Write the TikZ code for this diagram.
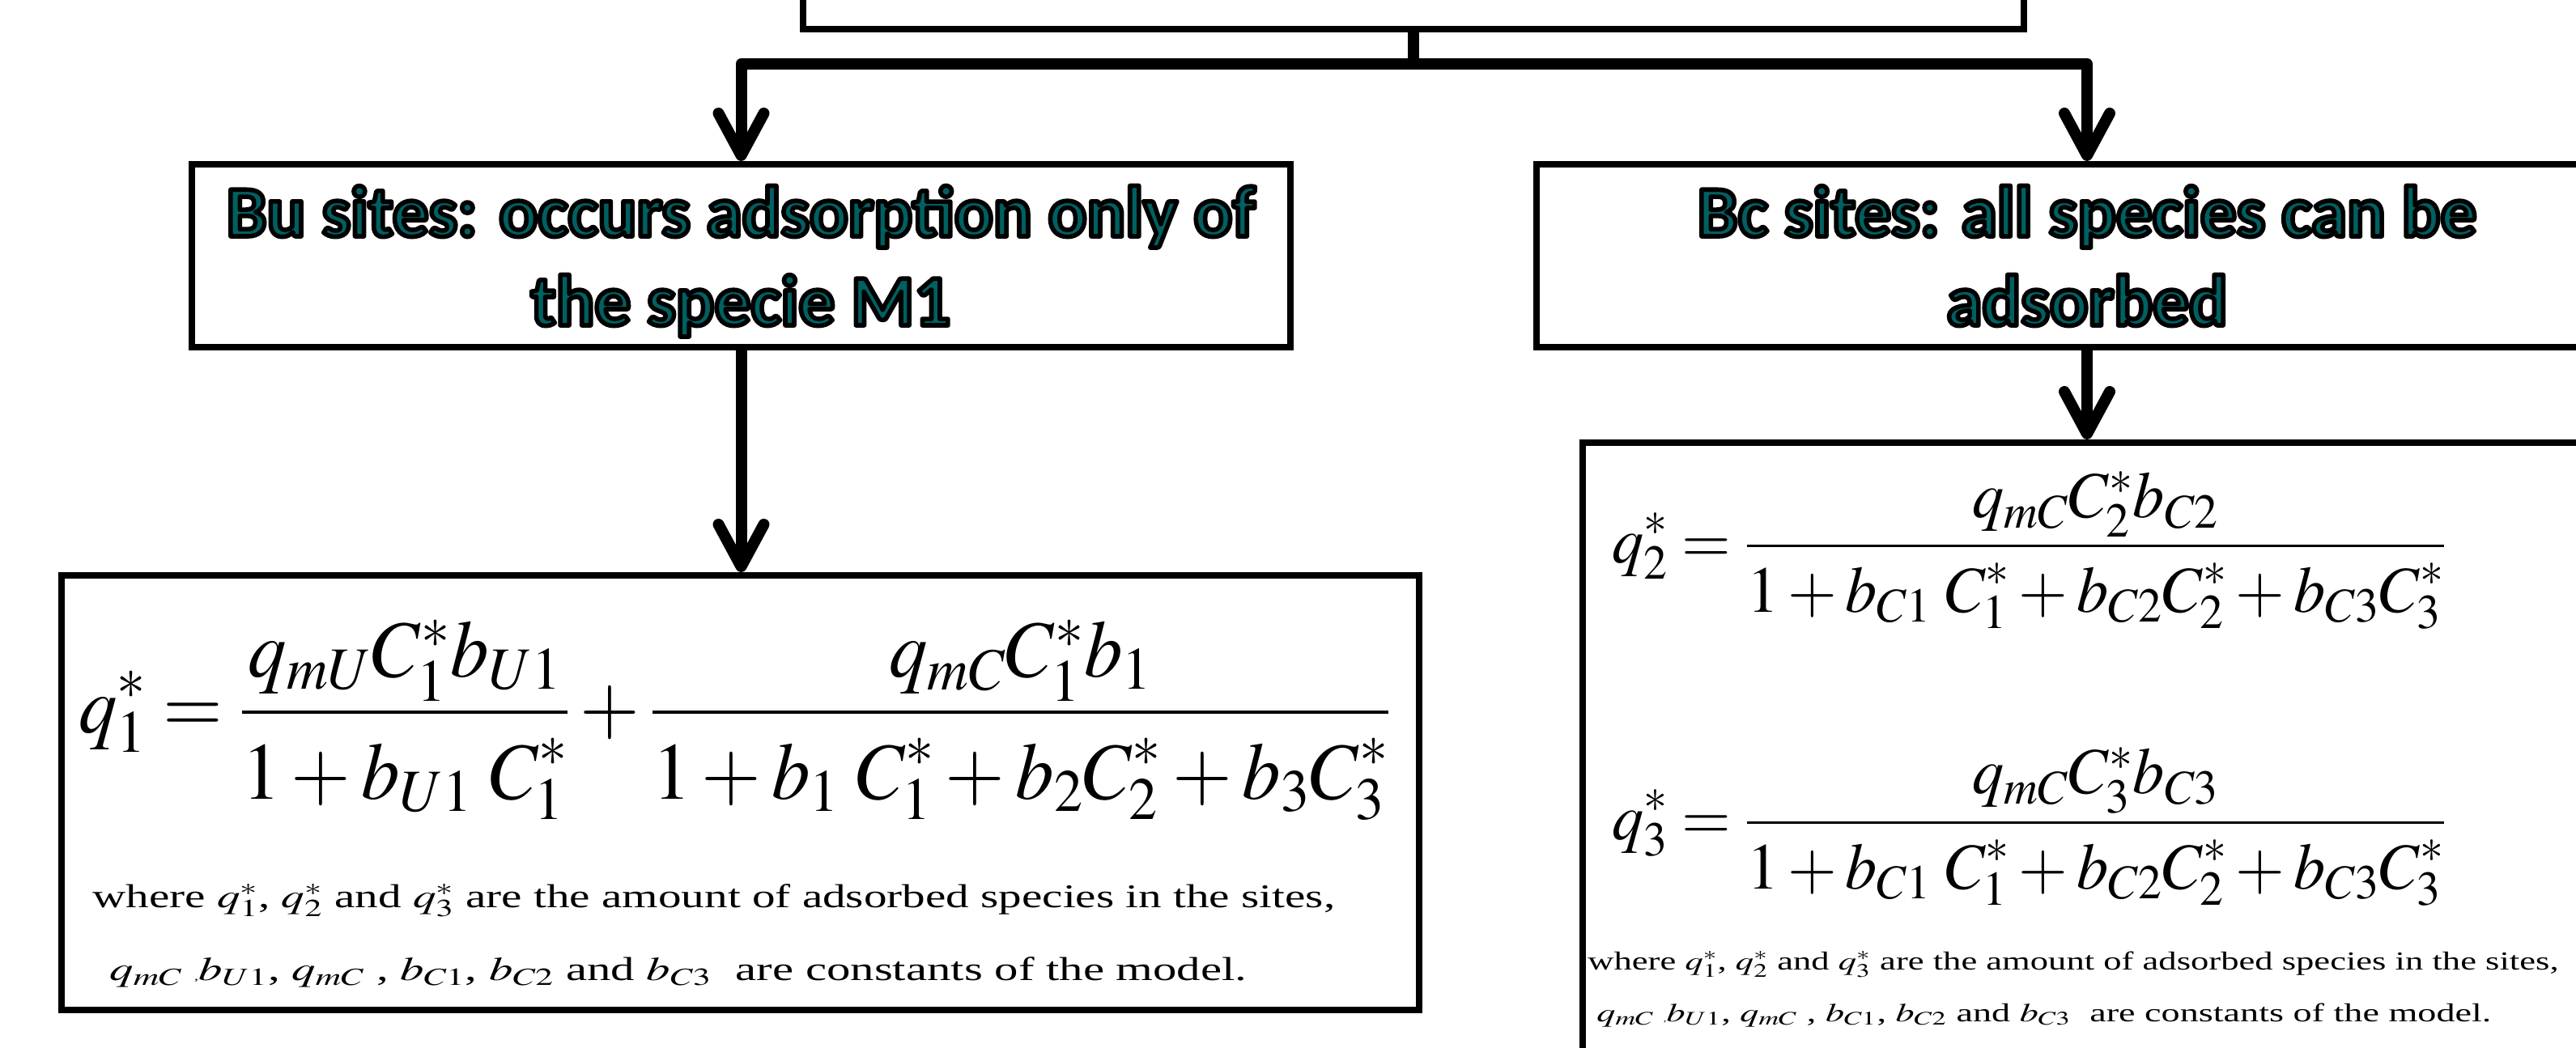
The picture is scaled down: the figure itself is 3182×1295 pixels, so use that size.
\documentclass[tikz,border=0pt]{standalone}
\usepackage{mathptmx}
\usepackage[no-math]{fontspec}
\usepackage{graphicx}
\setmainfont{Liberation Serif}
\newfontfamily\calibri{Carlito}
\usetikzlibrary{arrows.meta,fit}
\definecolor{tealtxt}{HTML}{006062}
\newcommand\ttl[1]{\special{pdf:literal direct 0 0 0 RG 2.8 w 1 j 2 Tr}#1\special{pdf:literal direct 0 Tr}}
\tikzset{
  box/.style={draw, line width=4pt, inner sep=0pt},
  conn/.style={line width=7pt, line join=round},
  >={Straight Barb[length=26pt,width=28pt,round]},
  ttlnode/.style={font=\calibri\bfseries\fontsize{44.5pt}{55pt}\selectfont, text=tealtxt, inner sep=0pt, anchor=base},
  eqbig/.style={anchor=base west, inner sep=0pt, font=\fontsize{50pt}{60pt}\selectfont},
  eqmid/.style={anchor=base west, inner sep=0pt, font=\fontsize{40.5pt}{48pt}\selectfont},
  txtA/.style={anchor=base west, inner sep=0pt, font=\fontsize{20.5pt}{24pt}\selectfont},
  txtB/.style={anchor=base west, inner sep=0pt, font=\fontsize{16pt}{19pt}\selectfont},
}
\begin{document}
\begin{tikzpicture}[x=0.5pt,y=-0.5pt]
\useasboundingbox (0,0) rectangle (3182,1295);
\clip (0,0) rectangle (3182,1295);
% boxes
\node[box, fit={(992,-120) (2500,36)}] (top) {};
\node[box, fit={(237,203) (1594,429)}] (Bu) {};
\node[box, fit={(1898,203) (3258,429)}] (Bc) {};
\node[box, fit={(76,711) (1753,1248)}] (eqL) {};
\node[box, fit={(1955,547) (3201,1400)}] (eqR) {};
% titles
\node[ttlnode] (Bu1) at (915,292) {\ttl{Bu sites: occurs adsorption only of}};
\node[ttlnode] (Bu2) at (915,402) {\ttl{the specie M1}};
\node[ttlnode] (Bc1) at (2578,292) {\ttl{Bc sites: all species can be}};
\node[ttlnode] (Bc2) at (2578,402) {\ttl{adsorbed}};
% connectors
\coordinate (split) at (1746,79);
\draw[conn] (top.south) -- (split);
\draw[conn,<->] (Bu.north) |- (split) -| (Bc.north);
\draw[conn,->] (Bu.south) -- (Bu.south |- eqL.north);
\draw[conn,->] (Bc.south) -- (Bc.south |- eqR.north);
% equations
\node[eqbig] (eq1) at (97,905) {\resizebox{810pt}{\height}{$\displaystyle q_1^{*}=\frac{q_{mU}C_1^{*}b_{U1}}{\raisebox{-7pt}{$\displaystyle 1+b_{U1}\;C_1^{*}$}}+\frac{q_{mC}C_1^{*}b_1}{\raisebox{-7pt}{$\displaystyle 1+b_1\;C_1^{*}+b_2C_2^{*}+b_3C_3^{*}$}}$}};
\node[txtA] (tA1) at (114,1121) {\resizebox{767.5pt}{\height}{where $q_1^{*}$, $q_2^{*}$ and $q_3^{*}$ are the amount of adsorbed species in the sites,}};
\node[txtA] (tA2) at (135,1211) {\resizebox{702.5pt}{\height}{$q_{mC}$ {\scriptsize,}$b_{U1}$, $q_{mC}$ , $b_{C1}$, $b_{C2}$ and $b_{C3}$~ are constants of the model.}};
\node[eqmid] (eq2) at (1991,695) {\resizebox{515pt}{\height}{$\displaystyle q_2^{*}=\frac{q_{mC}C_2^{*}b_{C2}}{\raisebox{-3pt}{$\displaystyle 1+b_{C1}\;C_1^{*}+b_{C2}C_2^{*}+b_{C3}C_3^{*}$}}$}};
\node[eqmid] (eq3) at (1991,1037) {\resizebox{515pt}{\height}{$\displaystyle q_3^{*}=\frac{q_{mC}C_3^{*}b_{C3}}{\raisebox{-3pt}{$\displaystyle 1+b_{C1}\;C_1^{*}+b_{C2}C_2^{*}+b_{C3}C_3^{*}$}}$}};
\node[txtB] (tB1) at (1961,1198) {\resizebox{599.5pt}{\height}{where $q_1^{*}$, $q_2^{*}$ and $q_3^{*}$ are the amount of adsorbed species in the sites,}};
\node[txtB] (tB2) at (1972,1262) {\resizebox{552.5pt}{\height}{$q_{mC}$ {\tiny,}$b_{U1}$, $q_{mC}$ , $b_{C1}$, $b_{C2}$ and $b_{C3}$~ are constants of the model.}};
\end{tikzpicture}
\end{document}
